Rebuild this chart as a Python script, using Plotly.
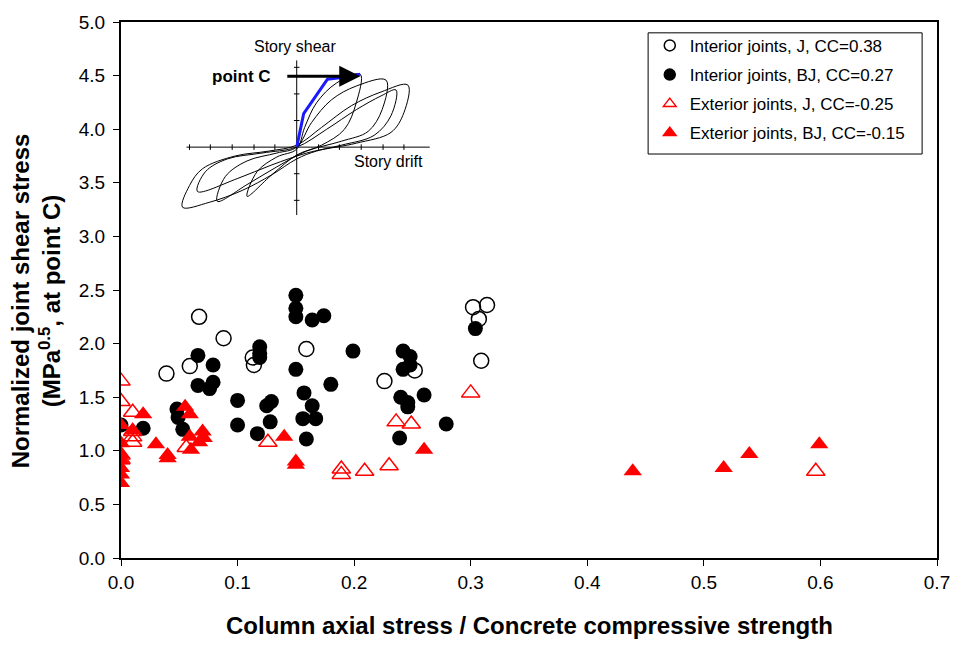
import plotly.graph_objects as go

# ---------------- data ----------------
IJ_X = [0.039, 0.059, 0.067, 0.088, 0.113, 0.114, 0.159, 0.226, 0.252, 0.302, 0.314, 0.307, 0.309]
IJ_Y = [1.72, 1.79, 2.25, 2.05, 1.87, 1.80, 1.95, 1.65, 1.75, 2.34, 2.36, 2.23, 1.84]

IBJ_X = [0.000, 0.019, 0.048, 0.049, 0.053, 0.066, 0.066, 0.076, 0.079, 0.079, 0.100, 0.100,
         0.117, 0.125, 0.129, 0.128, 0.119, 0.119, 0.119, 0.150, 0.150, 0.150, 0.164, 0.174,
         0.150, 0.157, 0.164, 0.156, 0.167, 0.159, 0.180, 0.199, 0.242, 0.248, 0.242, 0.248,
         0.240, 0.246, 0.246, 0.260, 0.239, 0.279, 0.304]
IBJ_Y = [1.24, 1.21, 1.39, 1.31, 1.20, 1.89, 1.61, 1.58, 1.80, 1.64, 1.47, 1.24,
         1.16, 1.42, 1.46, 1.27, 1.97, 1.91, 1.87, 2.45, 2.33, 2.25, 2.22, 2.26,
         1.76, 1.54, 1.42, 1.30, 1.30, 1.11, 1.62, 1.93, 1.93, 1.88, 1.76, 1.80,
         1.50, 1.45, 1.41, 1.52, 1.12, 1.25, 2.14]

EJ_X = [0.000, 0.000, 0.010, 0.010, 0.010, 0.010, 0.000, 0.000, 0.056, 0.126, 0.189, 0.189,
        0.209, 0.230, 0.236, 0.249, 0.300, 0.596]
EJ_Y = [1.65, 1.46, 1.36, 1.18, 1.08, 1.13, 0.96, 0.92, 1.03, 1.08, 0.83, 0.78,
        0.81, 0.86, 1.27, 1.25, 1.54, 0.81]

EBJ_X = [0.000, 0.000, 0.000, 0.000, 0.000, 0.000, 0.000, 0.019, 0.010, 0.030, 0.040, 0.040,
         0.055, 0.059, 0.059, 0.060, 0.067, 0.070, 0.071, 0.140, 0.150, 0.150, 0.260, 0.439,
         0.517, 0.539, 0.599]
EBJ_Y = [1.24, 1.07, 0.97, 0.91, 0.84, 0.78, 0.70, 1.34, 1.19, 1.06, 0.96, 0.93,
         1.41, 1.34, 1.13, 1.01, 1.08, 1.18, 1.12, 1.13, 0.90, 0.87, 1.01, 0.81,
         0.84, 0.97, 1.06]

SERIES_NAMES = ["Interior joints, J, CC=0.38", "Interior joints, BJ, CC=0.27",
                "Exterior joints, J, CC=-0.25", "Exterior joints, BJ, CC=-0.15"]

X_TICKS = [0.0, 0.1, 0.2, 0.3, 0.4, 0.5, 0.6, 0.7]
X_TICK_TEXT = ["0.0", "0.1", "0.2", "0.3", "0.4", "0.5", "0.6", "0.7"]
Y_TICKS = [0.0, 0.5, 1.0, 1.5, 2.0, 2.5, 3.0, 3.5, 4.0, 4.5, 5.0]
Y_TICK_TEXT = ["0.0", "0.5", "1.0", "1.5", "2.0", "2.5", "3.0", "3.5", "4.0", "4.5", "5.0"]

# ---------------- inset sketch (story shear vs story drift illustration) ----------------
LOOP_A_X = [-50, -40, -20, 0, 8, 20, 40, 64, 60, 48, 25, 0, -25, -50]
LOOP_A_Y = [-50, -25, -10, -2, 20, 45, 65, 74, 45, 18, 2, -8, -28, -50]
LOOP_B_X = [-80, -72, -50, -20, 0, 15, 35, 60, 90, 86, 72, 45, 10, -20, -50, -80]
LOOP_B_Y = [-55, -30, -14, -6, 0, 25, 48, 62, 68, 38, 16, 6, -4, -20, -38, -55]
LOOP_C_X = [-115, -108, -95, -62, -28, 0, 25, 55, 85, 112, 108, 95, 60, 20, 0, -25, -55, -88, -115]
LOOP_C_Y = [-61, -39, -22, -9, -4, 2, 20, 42, 56, 63, 35, 15, 4, -4, -12, -28, -44, -56, -61]
LOOP_D_X = [-100, -92, -70, -35, 0, 30, 60, 85, 100, 95, 78, 45, 10, -25, -60, -100]
LOOP_D_Y = [-45, -25, -12, -6, 0, 18, 38, 52, 58, 32, 12, 2, -6, -18, -32, -45]
BLUE_X = [0, 7, 31, 47, 64]
BLUE_Y = [0, 34, 69, 71, 74]
INSET_AX_H_X = [-111, 134]
INSET_AX_V_Y = [-69, 88]
INSET_TICKS_H = [-108, -87, -65, -43, -22, 22, 43, 65, 87, 108]
INSET_TICKS_V = [-54, -27, 27, 54, 81]

FONT = "Arial, Liberation Sans, sans-serif"

fig = go.Figure()

# main series (Excel order: later series on top)
fig.add_trace(go.Scatter(x=IJ_X, y=IJ_Y, mode="markers", name=SERIES_NAMES[0], showlegend=False,
                         marker=dict(symbol="circle-open", size=15, color="black", line=dict(width=1.5))))
fig.add_trace(go.Scatter(x=IBJ_X, y=IBJ_Y, mode="markers", name=SERIES_NAMES[1], showlegend=False,
                         marker=dict(symbol="circle", size=15, color="black")))
fig.add_trace(go.Scatter(x=EJ_X, y=EJ_Y, mode="markers", name=SERIES_NAMES[2], showlegend=False,
                         marker=dict(symbol="triangle-up-open", size=16, color="red", line=dict(width=1.5))))
fig.add_trace(go.Scatter(x=EBJ_X, y=EBJ_Y, mode="markers", name=SERIES_NAMES[3], showlegend=False,
                         marker=dict(symbol="triangle-up", size=16, color="red")))

# legend-only entries (smaller symbols, as in the reference legend)
leg_syms = [("circle-open", "black"), ("circle", "black"), ("triangle-up-open", "red"), ("triangle-up", "red")]
for i, (nm, (sym, col)) in enumerate(zip(SERIES_NAMES, leg_syms)):
    fig.add_trace(go.Scatter(x=[None], y=[None], mode="markers", name=nm, legendgroup=f"g{i}",
                             marker=dict(symbol=sym, size=11, color=col, line=dict(width=1.5, color=col))))

# inset drawing
for lx, ly in [(LOOP_A_X, LOOP_A_Y), (LOOP_B_X, LOOP_B_Y), (LOOP_C_X, LOOP_C_Y), (LOOP_D_X, LOOP_D_Y)]:
    fig.add_trace(go.Scatter(x=lx, y=ly, xaxis="x2", yaxis="y2", mode="lines", showlegend=False,
                             line=dict(color="black", width=1, shape="spline", smoothing=1.0),
                             hoverinfo="skip"))
fig.add_trace(go.Scatter(x=INSET_AX_H_X, y=[0, 0], xaxis="x2", yaxis="y2", mode="lines", showlegend=False,
                         line=dict(color="black", width=1), hoverinfo="skip"))
fig.add_trace(go.Scatter(x=[0, 0], y=INSET_AX_V_Y, xaxis="x2", yaxis="y2", mode="lines", showlegend=False,
                         line=dict(color="black", width=1), hoverinfo="skip"))
fig.add_trace(go.Scatter(x=INSET_TICKS_H, y=[0] * len(INSET_TICKS_H), xaxis="x2", yaxis="y2", mode="markers",
                         showlegend=False, marker=dict(symbol="line-ns", size=4, line=dict(width=1, color="black")),
                         hoverinfo="skip"))
fig.add_trace(go.Scatter(x=[0] * len(INSET_TICKS_V), y=INSET_TICKS_V, xaxis="x2", yaxis="y2", mode="markers",
                         showlegend=False, marker=dict(symbol="line-ew", size=4, line=dict(width=1, color="black")),
                         hoverinfo="skip"))
fig.add_trace(go.Scatter(x=BLUE_X, y=BLUE_Y, xaxis="x2", yaxis="y2", mode="lines", showlegend=False,
                         line=dict(color="#1a1aff", width=3), hoverinfo="skip"))

annotations = [
    dict(x=64, y=72, xref="x2", yref="y2", ax=-11, ay=72, axref="x2", ayref="y2", text="",
         showarrow=True, arrowhead=2, arrowsize=1.4, arrowwidth=3, arrowcolor="black"),
    dict(x=-24, y=72, xref="x2", yref="y2", text="<b>point C</b>", showarrow=False,
         xanchor="right", yanchor="middle", font=dict(family=FONT, size=17, color="black")),
    dict(x=-2, y=102, xref="x2", yref="y2", text="Story shear", showarrow=False,
         xanchor="center", yanchor="middle", font=dict(family=FONT, size=16, color="black")),
    dict(x=92, y=-15, xref="x2", yref="y2", text="Story drift", showarrow=False,
         xanchor="center", yanchor="middle", font=dict(family=FONT, size=16, color="black")),
    dict(x=0.5, y=-0.125, xref="paper", yref="paper", showarrow=False,
         text="<b>Column axial stress / Concrete compressive strength</b>",
         xanchor="center", yanchor="middle", font=dict(family=FONT, size=24, color="black")),
    dict(x=-0.1046, y=0.48, xref="paper", yref="paper", showarrow=False, textangle=-90,
         text="<b>Normalized joint shear stress<br>(MPa<sup>0.5</sup>, at point C)</b>",
         xanchor="center", yanchor="middle", font=dict(family=FONT, size=24, color="black")),
]

shapes = [
    dict(type="rect", xref="paper", yref="paper",
         x0=(652 - 121) / 822, x1=(928 - 121) / 822, y0=(558 - 148) / 544, y1=(558 - 25) / 544,
         line=dict(color="black", width=1), fillcolor="rgba(0,0,0,0)", layer="above"),
]

fig.update_layout(
    width=962, height=645,
    margin=dict(l=121, r=19, t=14, b=87),
    paper_bgcolor="white", plot_bgcolor="white",
    font=dict(family=FONT, size=17, color="black"),
    xaxis=dict(range=[0, 0.7], tickvals=X_TICKS, ticktext=X_TICK_TEXT, showgrid=False, zeroline=False,
               showline=True, linewidth=2, linecolor="black", mirror=True,
               ticks="outside", ticklen=6, tickwidth=1, tickcolor="black",
               tickfont=dict(family=FONT, size=19, color="black")),
    yaxis=dict(range=[0, 5], tickvals=Y_TICKS, ticktext=Y_TICK_TEXT, showgrid=False, zeroline=False,
               showline=True, linewidth=2, linecolor="black", mirror=True,
               ticks="outside", ticklen=6, tickwidth=1, tickcolor="black", ticklabelstandoff=4,
               tickfont=dict(family=FONT, size=19, color="black")),
    xaxis2=dict(domain=[0.07178, 0.38200], range=[-118, 137], anchor="y2", visible=False, fixedrange=True),
    yaxis2=dict(domain=[0.63971, 0.97059], range=[-69, 111], anchor="x2", visible=False, fixedrange=True),
    legend=dict(x=0.648, y=0.989, xanchor="left", yanchor="top", bgcolor="rgba(0,0,0,0)",
                borderwidth=0, traceorder="grouped", tracegroupgap=4,
                font=dict(family=FONT, size=17, color="black")),
    annotations=annotations,
    shapes=shapes,
    showlegend=True,
)

fig.write_html("out.html")
